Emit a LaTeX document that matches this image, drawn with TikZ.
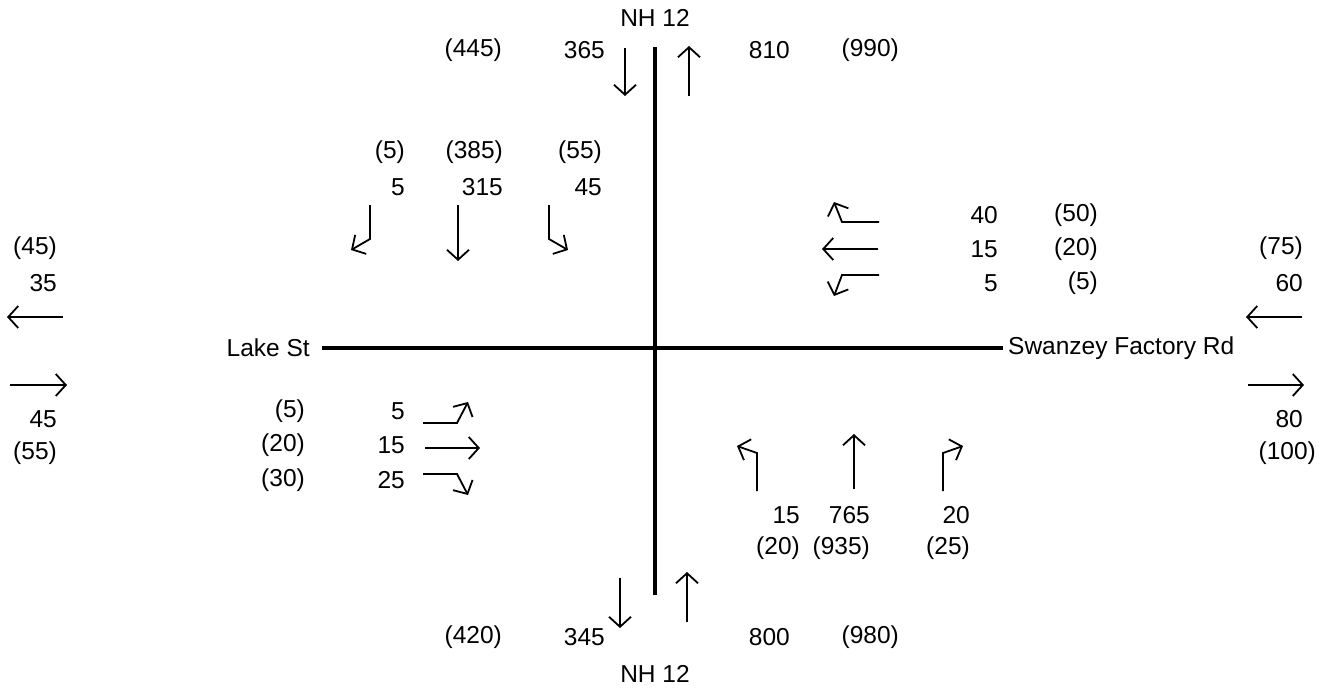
\documentclass[tikz,border=0pt]{standalone}
\usepackage{fontspec}
\setmainfont{Liberation Sans}
\usetikzlibrary{arrows.meta}
\begin{document}
\begin{tikzpicture}[x=1pt,y=-1pt,
  road/.style={line width=4pt},
  mv/.style={line width=1.8pt,-{Straight Barb[length=10pt,width=22pt,line width=1.8pt]}},
  lbl/.style={inner sep=0pt,anchor=east,font=\fontsize{24.5}{29}\selectfont},
  stname/.style={inner sep=0pt,font=\fontsize{24.5}{29}\selectfont}]
\useasboundingbox (0,0) rectangle (1339,694);
% roads
\coordinate (rn) at (655,47); \coordinate (rs) at (655,595);
\coordinate (rw) at (322,348); \coordinate (re) at (1003,348);
\draw[road] (rn) -- (rs);
\draw[road] (rw) -- (re);
% street names
\node[stname,anchor=south] (nhtop) at (655,27) {NH 12};
\node[stname,anchor=north] (nhbot) at (655,665) {NH 12};
\node[stname,anchor=east] (lake) at (310,348) {Lake St};
\node[stname,anchor=west] (swan) at (1008,348) {Swanzey Factory Rd};
% top volumes
\node[lbl] (t1) at (502,50) {(445)};
\node[lbl] (t2) at (605,50) {365};
\node[lbl] (t3) at (790,50) {810};
\node[lbl] (t4) at (899,50) {(990)};
\coordinate (tda) at (625,48); \coordinate (tdb) at (625,96);
\coordinate (tua) at (689,96); \coordinate (tub) at (689,46);
\draw[mv] (tda) -- (tdb);
\draw[mv] (tua) -- (tub);
% bottom volumes
\node[lbl] (b1) at (502,637) {(420)};
\node[lbl] (b2) at (605,637) {345};
\node[lbl] (b3) at (790,637) {800};
\node[lbl] (b4) at (899,637) {(980)};
\coordinate (bda) at (620,578); \coordinate (bdb) at (620,628);
\coordinate (bua) at (687,622); \coordinate (bub) at (687,572);
\draw[mv] (bda) -- (bdb);
\draw[mv] (bua) -- (bub);
% southbound approach
\node[lbl] (s1) at (405,152) {(5)};
\node[lbl] (s2) at (503,152) {(385)};
\node[lbl] (s3) at (602,152) {(55)};
\node[lbl] (s4) at (405,187) {5};
\node[lbl] (s5) at (503,187) {315};
\node[lbl] (s6) at (602,187) {45};
\coordinate (sla) at (370,205); \coordinate (slb) at (370,239); \coordinate (slc) at (351,250);
\coordinate (sta) at (458,205); \coordinate (stb) at (458,261);
\coordinate (sra) at (549,205); \coordinate (srb) at (549,239); \coordinate (src) at (568,250);
\draw[mv] (sla) -- (slb) -- (slc);
\draw[mv] (sta) -- (stb);
\draw[mv] (sra) -- (srb) -- (src);
% westbound approach
\node[lbl] (w1) at (998,215) {40};
\node[lbl] (w2) at (1098,215) {(50)};
\node[lbl] (w3) at (998,249) {15};
\node[lbl] (w4) at (1098,249) {(20)};
\node[lbl] (w5) at (998,283) {5};
\node[lbl] (w6) at (1098,283) {(5)};
\coordinate (wra) at (879,222); \coordinate (wrb) at (842,222); \coordinate (wrc) at (834,202);
\coordinate (wta) at (878,249); \coordinate (wtb) at (822,249);
\coordinate (wla) at (879,275); \coordinate (wlb) at (842,275); \coordinate (wlc) at (834,296);
\draw[mv] (wra) -- (wrb) -- (wrc);
\draw[mv] (wta) -- (wtb);
\draw[mv] (wla) -- (wlb) -- (wlc);
% eastbound approach
\node[lbl] (e1) at (305,411) {(5)};
\node[lbl] (e2) at (405,411) {5};
\node[lbl] (e3) at (305,445) {(20)};
\node[lbl] (e4) at (405,445) {15};
\node[lbl] (e5) at (305,480) {(30)};
\node[lbl] (e6) at (405,480) {25};
\coordinate (ela) at (423,423); \coordinate (elb) at (457,423); \coordinate (elc) at (468,402);
\coordinate (eta) at (425,448); \coordinate (etb) at (480,448);
\coordinate (era) at (423,474); \coordinate (erb) at (457,474); \coordinate (erc) at (468,495);
\draw[mv] (ela) -- (elb) -- (elc);
\draw[mv] (eta) -- (etb);
\draw[mv] (era) -- (erb) -- (erc);
% northbound approach
\node[lbl] (n1) at (800,515) {15};
\node[lbl] (n2) at (870,515) {765};
\node[lbl] (n3) at (970,515) {20};
\node[lbl] (n4) at (800,548) {(20)};
\node[lbl] (n5) at (870,548) {(935)};
\node[lbl] (n6) at (970,548) {(25)};
\coordinate (nla) at (757,491); \coordinate (nlb) at (757,453); \coordinate (nlc) at (737,446);
\coordinate (nta) at (854,489); \coordinate (ntb) at (854,434);
\coordinate (nra) at (943,491); \coordinate (nrb) at (943,453); \coordinate (nrc) at (963,446);
\draw[mv] (nla) -- (nlb) -- (nlc);
\draw[mv] (nta) -- (ntb);
\draw[mv] (nra) -- (nrb) -- (nrc);
% far west
\node[lbl] (fw1) at (57,248) {(45)};
\node[lbl] (fw2) at (57,283) {35};
\node[lbl] (fw3) at (57,419) {45};
\node[lbl] (fw4) at (57,453) {(55)};
\coordinate (fwla) at (63,317); \coordinate (fwlb) at (7,317);
\coordinate (fwra) at (10,385); \coordinate (fwrb) at (67,385);
\draw[mv] (fwla) -- (fwlb);
\draw[mv] (fwra) -- (fwrb);
% far east
\node[lbl] (fe1) at (1303,248) {(75)};
\node[lbl] (fe2) at (1303,283) {60};
\node[lbl] (fe3) at (1303,419) {80};
\node[lbl] (fe4) at (1316,453) {(100)};
\coordinate (fela) at (1302,317); \coordinate (felb) at (1246,317);
\coordinate (fera) at (1248,385); \coordinate (ferb) at (1304,385);
\draw[mv] (fela) -- (felb);
\draw[mv] (fera) -- (ferb);
\end{tikzpicture}
\end{document}
